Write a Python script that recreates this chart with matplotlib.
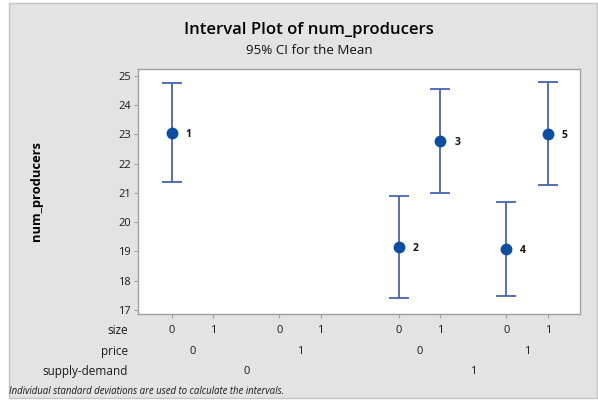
import matplotlib
matplotlib.use("Agg")
import matplotlib.pyplot as plt
from matplotlib.patches import Rectangle
import matplotlib.transforms as mtransforms

plt.rcParams['font.family'] = ['Open Sans', 'DejaVu Sans']

# factor levels for each cell (8 combinations)
size_lvls = [0, 1, 0, 1, 0, 1, 0, 1]
price_lvls = [0, 0, 1, 1, 0, 0, 1, 1]
sd_lvls = [0, 0, 0, 0, 1, 1, 1, 1]

# observed cells
obs_ids = [1, 2, 3, 4, 5]
obs_size = [0, 0, 1, 0, 1]
obs_price = [0, 0, 0, 1, 1]
obs_sd = [0, 1, 1, 1, 1]
means = [23.04, 19.16, 22.77, 19.08, 23.02]
lower = [21.38, 17.42, 21.00, 17.46, 21.25]
upper = [24.74, 20.89, 24.54, 20.68, 24.78]

yticks = [17, 18, 19, 20, 21, 22, 23, 24, 25]

PRICE_GAP = 2.6
SD_GAP = 5.5

def pos(s, p, d):
    return s + PRICE_GAP * p + SD_GAP * d

fig = plt.figure(figsize=(5.98, 4.01), dpi=100)
fig.patch.set_facecolor('white')
bg = Rectangle((9 / 598, 3 / 401), 588 / 598, 395 / 401, transform=fig.transFigure,
               facecolor='#e3e3e3', edgecolor='#c4c4c4', linewidth=1.0, zorder=-10)
fig.patches.append(bg)

ax = fig.add_axes([138 / 598, 1 - 314 / 401, 442 / 598, 245 / 401])
ax.set_zorder(5)
ax.set_facecolor('white')

xs = [pos(s, p, d) for s, p, d in zip(obs_size, obs_price, obs_sd)]
err_lo = [m - l for m, l in zip(means, lower)]
err_hi = [u - m for m, u in zip(means, upper)]
ax.errorbar(xs, means, yerr=[err_lo, err_hi], fmt='none', ecolor='#4664b4',
            elinewidth=1.3, capsize=7, capthick=1.3, zorder=2)
ax.plot(xs, means, 'o', color='#0a4ea3', markersize=7.5, zorder=3)
for x, m, i in zip(xs, means, obs_ids):
    ax.annotate(str(i), (x, m), xytext=(10, -1), textcoords='offset points',
                fontsize=7.5, fontweight='bold', va='center', ha='left', color='#111111')

ax.set_xlim(-0.82, 9.88)
ax.set_ylim(16.86, 25.23)
ax.set_yticks(yticks)
ax.set_yticklabels([str(t) for t in yticks], fontsize=8, color='#1a1a1a')
all_x = [pos(s, p, d) for s, p, d in zip(size_lvls, price_lvls, sd_lvls)]
ax.set_xticks(all_x)
ax.set_xticklabels([''] * len(all_x))
ax.tick_params(axis='both', length=3, width=0.8, color='#a0a0a0', pad=2)
for sp in ax.spines.values():
    sp.set_color('#a0a0a0')
    sp.set_linewidth(1.0)

trans = mtransforms.blended_transform_factory(ax.transData, ax.transAxes)
row_y = [-0.067, -0.153, -0.233]
FS = 8
# size row
for x, s in zip(all_x, size_lvls):
    ax.text(x, row_y[0], str(s), transform=trans, ha='center', va='center',
            fontsize=FS, color='#1a1a1a')
# price row
price_centers = {}
for x, p, d in zip(all_x, price_lvls, sd_lvls):
    price_centers.setdefault((d, p), []).append(x)
for (d, p), xl in price_centers.items():
    ax.text(sum(xl) / len(xl), row_y[1], str(p), transform=trans, ha='center',
            va='center', fontsize=FS, color='#1a1a1a')
# supply-demand row
sd_centers = {}
for x, d in zip(all_x, sd_lvls):
    sd_centers.setdefault(d, []).append(x)
for d, xl in sd_centers.items():
    ax.text((min(xl) + max(xl)) / 2, row_y[2], str(d), transform=trans, ha='center',
            va='center', fontsize=FS, color='#1a1a1a')

row_names = ['size', 'price', 'supply-demand']
trans2 = mtransforms.blended_transform_factory(fig.transFigure, ax.transAxes)
for name, y in zip(row_names, row_y):
    ax.text(128 / 598, y, name, transform=trans2, ha='right', va='center',
            fontsize=8.5, color='#1a1a1a')

fig.text(309 / 598, 1 - 30 / 401, 'Interval Plot of num_producers',
         ha='center', va='center', fontsize=12, fontweight='semibold', color='#000000')
fig.text(309 / 598, 1 - 50 / 401, '95% CI for the Mean',
         ha='center', va='center', fontsize=9.6, fontweight='medium', color='#111111')
fig.text(37 / 598, 1 - 191 / 401, 'num_producers', rotation=90, ha='center',
         va='center', fontsize=9.3, fontweight='bold', color='#000000')
fig.text(9 / 598, 1 - 391.5 / 401,
         'Individual standard deviations are used to calculate the intervals.',
         ha='left', va='center', fontsize=6.9, style='italic', color='#1a1a1a')

fig.savefig('out.png', dpi=100, facecolor=fig.get_facecolor())
